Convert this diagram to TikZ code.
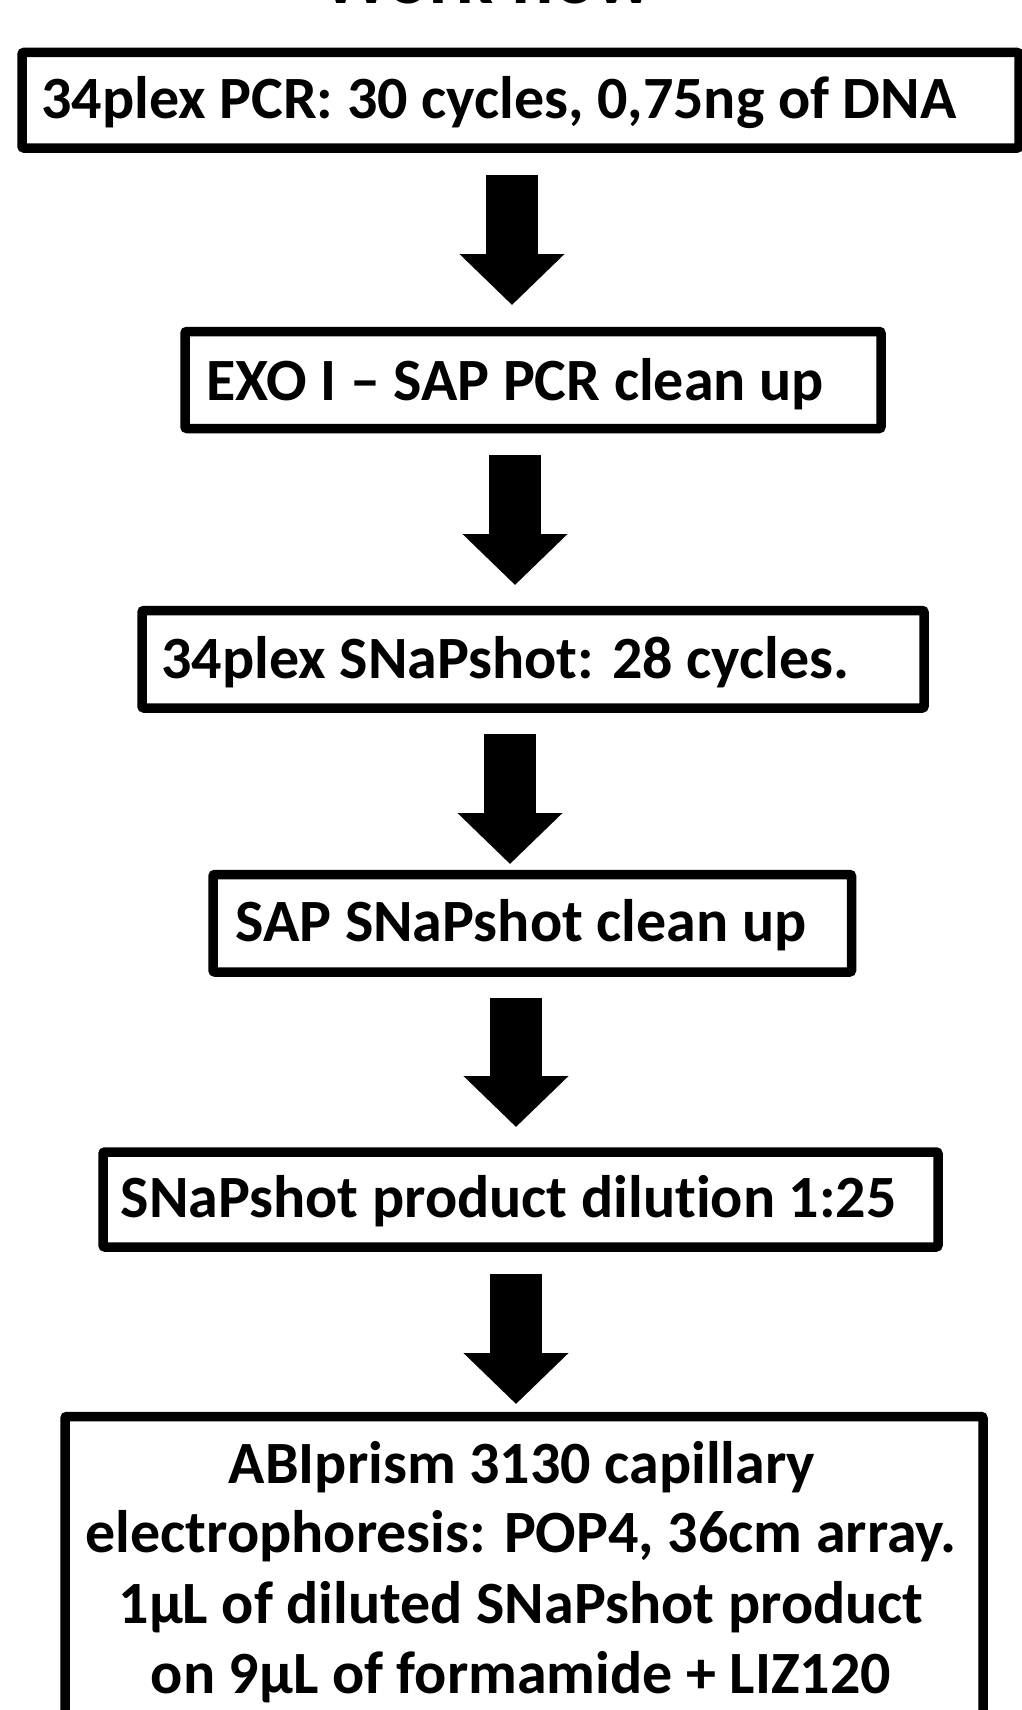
\documentclass[tikz,border=0pt]{standalone}
\usepackage{fontspec}
\setmainfont{Carlito}[Ligatures=NoCommon]
\usetikzlibrary{arrows.meta}
\begin{document}
\begin{tikzpicture}[x=1pt,y=-1pt,
  stepbox/.style={draw=black, line width=9.5pt, rounded corners=2pt, inner sep=0pt},
  boxtext/.style={font=\fontsize{60}{72}\selectfont\bfseries, anchor=base, inner sep=0pt},
  flow/.style={line width=52pt, -{Triangle[width=102pt,length=51pt]}}]
\clip (0,0) rectangle (1022,1710);

% title, partly above the page edge
\node[font=\fontsize{77}{90}\selectfont\bfseries, anchor=base, inner sep=0pt] (title) at (487,3.5) {Work flow};

% process boxes
\node[stepbox, minimum width=997pt, minimum height=95.5pt] (b1) at (520.5,100.25) {};
\node[stepbox, minimum width=696pt, minimum height=97pt] (b2) at (533,380) {};
\node[stepbox, minimum width=782pt, minimum height=97.5pt] (b3) at (533,659.25) {};
\node[stepbox, minimum width=638.5pt, minimum height=97.5pt] (b4) at (532.25,923.25) {};
\node[stepbox, minimum width=835pt, minimum height=95pt] (b5) at (520.5,1199.5) {};
\node[stepbox, minimum width=918pt, minimum height=343pt] (b6) at (524,1588) {};

% box texts
\node[boxtext] (t1) at (499,118) {34plex PCR: 30 cycles, 0,75ng of DNA};
\node[boxtext] (t2) at (515,400) {EXO I – SAP PCR clean up};
\node[boxtext] (t3) at (505.5,678) {34plex SNaPshot: 28 cycles.};
\node[boxtext] (t4) at (521,941) {SAP SNaPshot clean up};
\node[boxtext] (t5) at (508.5,1217) {SNaPshot product dilution 1:25};
\node[boxtext] (t6a) at (522,1483) {ABIprism 3130 capillary};
\node[boxtext] (t6b) at (521,1552) {electrophoresis: POP4, 36cm array.};
\node[boxtext] (t6c) at (521,1623) {1µL of diluted SNaPshot product};
\node[boxtext] (t6d) at (521,1693) {on 9µL of formamide + LIZ120};

% block arrows between the steps
\coordinate (a1s) at (512,175);  \coordinate (a1e) at (512,305);
\coordinate (a2s) at (515,455);  \coordinate (a2e) at (515,585);
\coordinate (a3s) at (510,734);  \coordinate (a3e) at (510,864);
\coordinate (a4s) at (516,998);  \coordinate (a4e) at (516,1127);
\coordinate (a5s) at (516,1274); \coordinate (a5e) at (516,1404);
\draw[flow] (a1s) -- (a1e);
\draw[flow] (a2s) -- (a2e);
\draw[flow] (a3s) -- (a3e);
\draw[flow] (a4s) -- (a4e);
\draw[flow] (a5s) -- (a5e);
\end{tikzpicture}
\end{document}
